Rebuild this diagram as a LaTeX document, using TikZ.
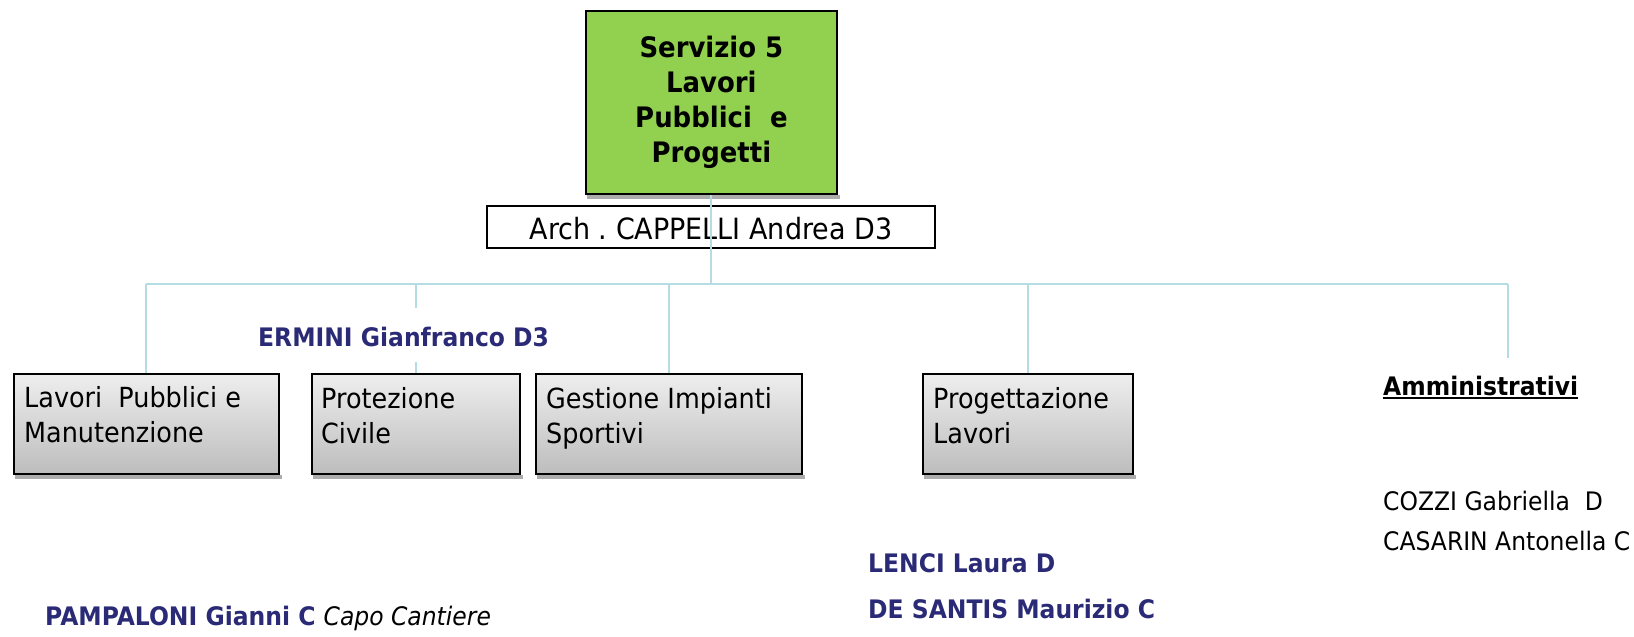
\documentclass[tikz,border=0pt]{standalone}
\usepackage{fontspec}
\setmainfont[FakeStretch=0.92]{DejaVu Sans}
\frenchspacing
\definecolor{titlegreen}{HTML}{92D050}
\definecolor{connblue}{HTML}{B4DCE3}
\definecolor{navyname}{RGB}{42,42,118}
\definecolor{boxtop}{HTML}{EEEEEE}
\definecolor{boxbot}{HTML}{BDBDBD}
\begin{document}
\begin{tikzpicture}[x=1pt,y=-1pt,
  conn/.style={draw=connblue, line width=2pt},
  deptbox/.style={draw=black, line width=1.8pt, top color=boxtop, bottom color=boxbot,
    minimum height=100pt, inner sep=0pt, anchor=north west},
  depttext/.style={anchor=north west, inner sep=0pt, align=left,
    font=\fontsize{27.7}{35}\selectfont},
  shadowstrip/.style={fill=gray!65},
  namebold/.style={anchor=base west, inner sep=0pt, text=navyname,
    font=\bfseries\fontsize{25.5}{30}\selectfont},
  nameplain/.style={anchor=base west, inner sep=0pt,
    font=\fontsize{25.5}{30}\selectfont}
]
\useasboundingbox (0,0) rectangle (1634,637);

% title box
\node[draw=black, line width=1.8pt, fill=titlegreen, minimum width=251pt, minimum height=183pt,
  inner sep=0pt, anchor=north west, align=center,
  font=\bfseries\fontsize{28.2}{35}\selectfont] (title) at (585,10)
  {Servizio 5\\Lavori\\Pubblici\ \ e\\Progetti};
\fill[shadowstrip] ([xshift=2pt]title.south west) rectangle ([xshift=2pt,yshift=-4pt]title.south east);

% head
\node[draw=black, line width=1.8pt, fill=white, minimum width=448pt, minimum height=42pt,
  inner sep=0pt, anchor=north west, text height=26pt, text depth=0pt,
  font=\fontsize{29.3}{34}\selectfont] (head) at (486,205) {Arch . CAPPELLI Andrea D3};

% department boxes
\node[deptbox, minimum width=265pt] (b1) at (13,373) {};
\node[deptbox, minimum width=208pt] (b2) at (311,373) {};
\node[deptbox, minimum width=266pt] (b3) at (535,373) {};
\node[deptbox, minimum width=210pt] (b4) at (922,373) {};
\foreach \b in {b1,b2,b3,b4}{
  \fill[shadowstrip] ([xshift=2pt]\b.south west) rectangle ([xshift=2pt,yshift=-4pt]\b.south east);
}
\node[depttext] (t1) at (24,386) {Lavori\ \ Pubblici e\\Manutenzione};
\node[depttext] (t2) at (321,386.8) {Protezione\\Civile};
\node[depttext] (t3) at (546,386.8) {Gestione Impianti\\Sportivi};
\node[depttext] (t4) at (933,386.8) {Progettazione\\Lavori};

% connectors
\coordinate (hl) at (146,284);
\coordinate (hr) at (1508,284);
\coordinate (amtop) at (1508,358);
\coordinate (ergapA) at (0,308);
\coordinate (ergapB) at (0,362);
\draw[conn] (title.south) -- (title.south |- hl);
\draw[conn] (b1.north |- hl) -- (hr);
\draw[conn] (b1.north |- hl) -- (b1.north);
\draw[conn] (b2.north |- hl) -- (b2.north |- ergapA);
\draw[conn] (b2.north |- ergapB) -- (b2.north);
\draw[conn] (b3.north |- hl) -- (b3.north);
\draw[conn] (b4.north |- hl) -- (b4.north);
\draw[conn] (hr) -- (amtop);

% names
\node[namebold] (ermini) at (258,346) {ERMINI Gianfranco D3};
\node[anchor=base west, inner sep=0pt, font=\bfseries\fontsize{25.5}{30}\selectfont] (amm) at (1383,395) {Amministrativi};
\draw[line width=2pt] ([yshift=-3pt]amm.base west) -- ([yshift=-3pt]amm.base east);
\node[nameplain] (cozzi) at (1383,510) {COZZI Gabriella\ \ D};
\node[nameplain] (casarin) at (1383,550) {CASARIN Antonella C};
\node[namebold] (lenci) at (868,572) {LENCI Laura D};
\node[namebold] (desantis) at (868,618) {DE SANTIS Maurizio C};
\node[namebold] (pampaloni) at (45,625) {PAMPALONI Gianni C \textcolor{black}{\mdseries\itshape Capo Cantiere}};
\end{tikzpicture}
\end{document}
